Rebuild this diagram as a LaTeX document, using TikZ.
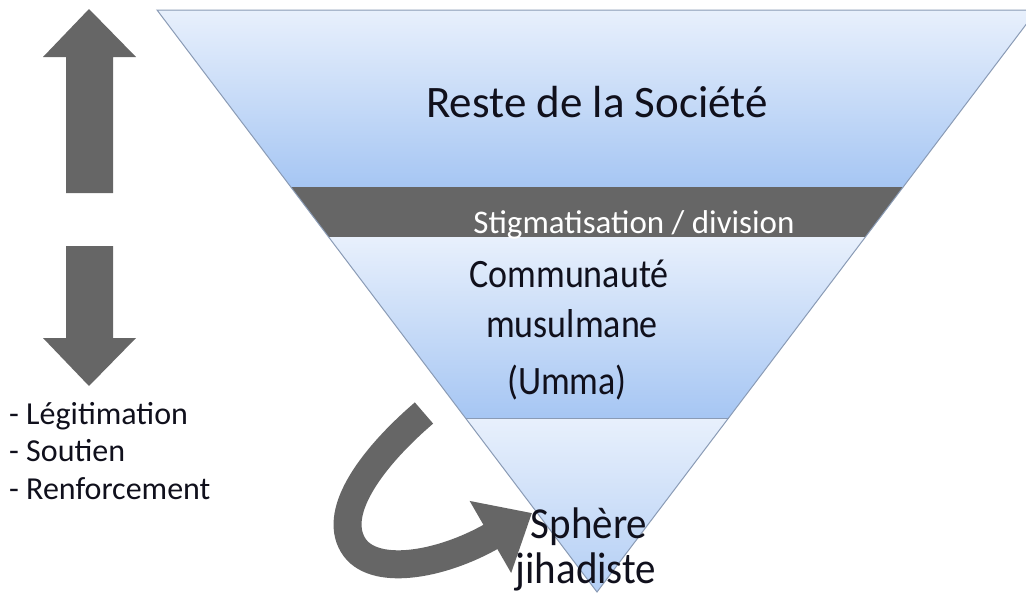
\documentclass[tikz,border=0pt]{standalone}
\usepackage{fontspec}
\setmainfont{Carlito}
\usetikzlibrary{arrows.meta}
\definecolor{bandgray}{HTML}{666666}
\definecolor{skytop}{HTML}{E8F0FC}
\definecolor{skybot}{HTML}{A6C6F3}
\definecolor{edgeblue}{HTML}{8A9BB5}
\definecolor{ink}{HTML}{10101C}
\begin{document}
\begin{tikzpicture}[x=1pt,y=-1pt,
  grayshape/.style={fill=bandgray,draw=none},
  section/.style={top color=skytop,bottom color=skybot,draw=none},
  lbl/.style={text=ink,inner sep=0pt,anchor=base},
  sidelbl/.style={text=ink,inner sep=0pt,anchor=base west,font=\fontsize{32}{38}\selectfont}]
\useasboundingbox (0,0) rectangle (1026,597);
\clip (0,0) rectangle (1026,597);
% sections of the inverted triangle
\shade[section] (157,10) -- (1037,10) -- (903.2,187) -- (290.8,187) -- cycle;
\fill[bandgray] (290.8,187) -- (903.2,187) -- (865.4,237) -- (328.6,237) -- cycle;
\shade[section] (328.6,237) -- (865.4,237) -- (728.5,418) -- (465.5,418) -- cycle;
\shade[section,bottom color=skybot!80!skytop] (465.5,418) -- (728.5,418) -- (597,592) -- cycle;
\draw[edgeblue,line width=1pt] (157,10) -- (1037,10) -- (597,592) -- cycle;
\draw[edgeblue,line width=1pt] (465.5,418) -- (728.5,418);
% up and down arrows
\fill[grayshape] (89,9) -- (136,57) -- (113,57) -- (113,193) -- (66,193) -- (66,57) -- (43,57) -- cycle;
\fill[grayshape] (66,246) -- (113,246) -- (113,338) -- (136,338) -- (89,386) -- (43,338) -- (66,338) -- cycle;
% curved arrow
\coordinate (cstart) at (424,413);
\coordinate (cend) at (532,513);
\draw[bandgray,line width=28pt,-{Triangle[length=48pt,width=80pt]}]
  (cstart) .. controls (375,455) and (332,510) .. (353,545)
  .. controls (372,577) and (440,566) .. (cend);
% texts
\node[lbl,font=\fontsize{45}{54}\selectfont] (reste) at (597,117) {Reste de la Société};
\node[lbl,text=white,font=\fontsize{33}{40}\selectfont] (stig) at (634,233) {Stigmatisation / division};
\node[lbl,yscale=1.12,font=\fontsize{36}{42}\selectfont] (comm) at (569,287) {Communauté};
\node[lbl,yscale=1.12,font=\fontsize{36}{42}\selectfont] (musu) at (572,337) {musulmane};
\node[lbl,yscale=1.12,font=\fontsize{36}{42}\selectfont] (umma) at (567,394) {(Umma)};
\node[lbl,yscale=1.08,font=\fontsize{41}{48}\selectfont] (sphe) at (589,538) {Sphère};
\node[lbl,yscale=1.08,font=\fontsize{41}{48}\selectfont] (jiha) at (586,583) {jihadiste};
\node[sidelbl] (leg) at (9,424) {- Légitimation};
\node[sidelbl] (sout) at (9,461) {- Soutien};
\node[sidelbl] (renf) at (9,499) {- Renforcement};
\end{tikzpicture}
\end{document}
